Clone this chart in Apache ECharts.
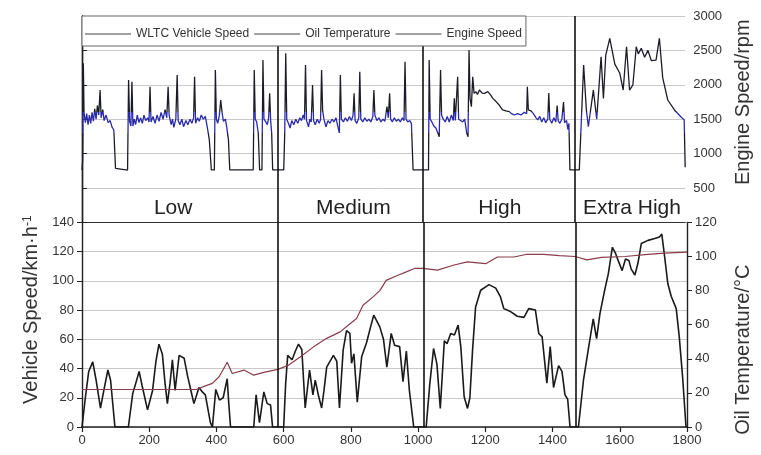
<!DOCTYPE html>
<html><head><meta charset="utf-8">
<script src="https://cdn.jsdelivr.net/npm/echarts@6/dist/echarts.min.js"></script>
<style>html,body{margin:0;padding:0;background:#fff}#c{width:761px;height:455px}</style>
</head><body><div id="c"></div>
<script>
// ---- data ----
const xTicks = [0, 200, 400, 600, 800, 1000, 1200, 1400, 1600, 1800];
const phaseBounds = [583, 1017, 1470];
const phaseLabels = [
  {name: 'Low', t: 272},
  {name: 'Medium', t: 810},
  {name: 'High', t: 1247},
  {name: 'Extra High', t: 1641}
];
const phaseLabelRpm = 200;

const speedPoints = [
  [0,0],[10,20],[20,38],[32,44.6],[42,32],[55,13],[65,25],[77,39],[85,32],[98,0],[138,0],[151,23],[160,30],[170,38],[180,27],[195,11.7],[210,25],[220,45],[229,56.7],[239,50],[247,30],[254,16],[262,30],[269,46],[277,25],[289,49],[304,47],[314,35],[324,25],[333,16],[348,27],[358,24],[367,22],[382,3],[388,0],[398,25.7],[409,18.4],[420,20],[432,33],[437,15],[442,0],[511,0],[518,22],[528,3],[541,24],[551,16],[561,15],[567,0],[600,0],
  [606,30],[612,49],[625,46],[635,52],[644,56.7],[654,53],[664,13],[677,39],[687,22],[694,32],[704,21],[713,13],[720,25],[728,41],[748,49],[758,45],[766,13],[777,52.6],[787,66],[797,64],[802,43.6],[809,50],[819,17],[832,48],[847,58],[858,68],[868,76.5],[886,68.5],[897,60],[907,41],[920,64],[930,56],[945,55],[955,31],[965,52],[974,25],[987,0],[1024,0],
  [1035,30],[1046,53.7],[1056,43],[1066,12.7],[1078,59],[1086,57],[1097,64],[1108,63],[1119,69.7],[1127,55],[1137,20.7],[1147,12.7],[1154,20],[1162,52.6],[1171,82],[1186,93.6],[1211,97.4],[1231,95],[1245,89],[1255,81],[1275,79],[1295,75.8],[1315,75],[1329,81],[1349,80],[1359,64],[1369,61.7],[1383,30],[1393,55],[1403,27],[1418,42],[1428,38],[1437,22],[1445,19],[1452,0],[1477,0],
  [1492,32],[1506,52.6],[1521,74],[1531,60.5],[1541,77.6],[1556,94.7],[1566,105],[1578,123],[1587,119],[1595,114],[1607,107],[1617,115],[1627,114],[1634,108],[1645,104],[1654,112],[1664,125.5],[1684,127.7],[1704,129],[1718,130],[1725,132],[1733,117.5],[1743,98],[1753,89.5],[1768,81],[1777,61.7],[1787,34],[1797,0],[1800,0]
];

const oilPoints = [
  [0,22],[340,22],[365,24],[388,25.6],[408,29.5],[432,38],[447,31.4],[482,33.4],[511,30.4],[541,32],[583,33.8],[615,36.3],[649,41],[689,47],[728,52],[768,55.8],[792,59.7],[817,63.6],[836,71.4],[866,76.3],[886,80],[905,86],[940,89],[965,91],[989,93],[1014,93],[1058,92],[1107,95],[1147,96.8],[1201,95.8],[1236,99.7],[1285,99.7],[1324,101.3],[1374,101.3],[1420,100.5],[1467,100],[1502,98],[1546,99.5],[1615,100],[1684,101.3],[1733,102],[1800,102.6]
];

const enginePoints = [
  [0,760],[2,900],[4,2312],[6,1600],[10,1450],[14,1580],[18,1420],[22,1560],[26,1440],[30,1600],[34,1470],[38,1650],[42,1500],[46,1700],[50,1560],[54,1924],[57,1520],[62,1640],[66,1480],[72,1560],[78,1450],[84,1480],[90,1380],[95,1343],[100,786],[102,760],
  [136,760],[139,2070],[142,1470],[146,1400],[149,2045],[152,1400],[156,1500],[160,1420],[165,1560],[170,1450],[175,1520],[180,1440],[185,1560],[190,1480],[196,1520],[200,1460],[203,1972],[206,1460],[212,1540],[218,1440],[224,1560],[230,1470],[236,1600],[242,1500],[248,1640],[253,1520],[257,1972],[260,1560],[266,1420],[270,1500],[274,1380],[280,1500],[284,2142],[287,1480],[292,1420],[298,1500],[303,1391],[310,1480],[316,1420],[322,1500],[328,1440],[333,1520],[336,2118],[339,1440],[345,1520],[350,1470],[356,1560],[362,1500],[368,1540],[374,1380],[380,1198],[386,762],[395,762],[398,2215],[401,1500],[405,1440],[410,1560],[414,1779],[418,1600],[422,1470],[428,1500],[432,1380],[437,1200],[441,762],[511,762],[514,2215],[517,1500],[521,1464],[526,1300],[530,762],[537,762],[540,2360],[543,1500],[548,1464],[553,1420],[557,1520],[560,1876],[563,1480],[566,1300],[569,762],[602,762],
  [605,1300],[608,2457],[611,1500],[616,1440],[621,1372],[626,1480],[632,1420],[638,1500],[644,1440],[650,1520],[655,1480],[660,1561],[664,1500],[667,2288],[670,1480],[676,1390],[680,1500],[684,1460],[688,1997],[691,1480],[696,1420],[702,1500],[708,1440],[712,1500],[715,2215],[718,1633],[722,1500],[728,1390],[734,1480],[740,1440],[746,1500],[752,1460],[758,1520],[764,1380],[768,1300],[771,2142],[774,1500],[780,1460],[786,1520],[792,1470],[798,1540],[804,1480],[809,1560],[812,1876],[815,1480],[820,1440],[826,1520],[829,2190],[832,1500],[838,1460],[844,1520],[850,1470],[856,1500],[862,1460],[868,1540],[871,1924],[874,1560],[880,1480],[886,1520],[892,1460],[898,1500],[904,1470],[910,1682],[914,1520],[918,1876],[921,1500],[926,1460],[932,1520],[938,1470],[944,1500],[950,1460],[956,1520],[961,1480],[964,2336],[967,1500],[972,1460],[978,1480],[983,1440],[988,762],[1034,762],
  [1036,2360],[1039,1500],[1044,1460],[1050,1400],[1056,1372],[1062,1300],[1066,1246],[1070,2215],[1073,1560],[1078,1500],[1084,1460],[1090,1540],[1096,1460],[1102,1560],[1108,1480],[1111,1803],[1114,1480],[1118,1460],[1121,2118],[1124,1500],[1130,1480],[1136,1460],[1142,1500],[1148,1300],[1152,1246],[1155,2506],[1158,1800],[1162,1682],[1166,2118],[1170,1876],[1176,1900],[1180,1860],[1186,1924],[1194,1880],[1201,1876],[1211,1900],[1218,1860],[1226,1803],[1235,1760],[1245,1706],[1255,1634],[1265,1620],[1275,1610],[1282,1580],[1290,1561],[1300,1580],[1310,1561],[1320,1600],[1327,1580],[1329,1972],[1332,1634],[1340,1620],[1347,1580],[1355,1520],[1360,1490],[1366,1540],[1372,1460],[1378,1520],[1384,1450],[1390,1500],[1393,1880],[1396,1500],[1402,1440],[1408,1520],[1414,1460],[1418,1700],[1421,1480],[1426,1440],[1432,1500],[1437,1750],[1440,1450],[1446,1480],[1450,1350],[1453,1440],[1456,762],[1484,762],
  [1497,2288],[1505,1640],[1511,1391],[1526,1924],[1536,1500],[1549,2408],[1556,1800],[1563,2430],[1575,2676],[1590,2300],[1605,2167],[1615,1924],[1625,2554],[1634,1924],[1644,2000],[1654,2554],[1660,2450],[1669,2530],[1679,2400],[1689,2500],[1699,2350],[1713,2360],[1723,2676],[1733,2100],[1748,1779],[1768,1634],[1787,1536],[1797,1490],[1800,800]
];
// engine-speed band drawn in blue (cruise fuzz); outside it the trace is dark
const engineBlueBand = [1300, 1600];

// ---- build ----
const BLUE = '#2a2aa8', DARK = '#1c1c28';
const FONT = 'Liberation Sans, Arial, sans-serif';
const gridGray = '#c9c9c9';
const phaseMark = {
  silent: true, symbol: 'none',
  lineStyle: {color: '#111', width: 1.6, type: 'solid'},
  label: {show: false},
  data: phaseBounds.map(t => ({xAxis: t}))
};

const chart = echarts.init(document.getElementById('c'));
chart.setOption({
  animation: false,
  textStyle: {fontFamily: FONT},
  grid: [
    {left: 82, right: 70, top: 16, height: 206.4},
    {left: 82, right: 70, top: 222.4, bottom: 28}
  ],
  legend: {
    left: 82, top: 16, z: 10,
    padding: [12, 4, 6, 3], itemGap: 5, itemWidth: 46, itemHeight: 1.2, icon: 'rect',
    backgroundColor: '#fff', borderColor: '#666', borderWidth: 1,
    textStyle: {fontSize: 12, color: '#333', fontFamily: FONT},
    data: [
      {name: 'WLTC Vehicle Speed', itemStyle: {color: '#444'}},
      {name: 'Oil Temperature', itemStyle: {color: '#444'}},
      {name: 'Engine Speed', itemStyle: {color: '#444'}}
    ]
  },
  visualMap: {
    show: false, type: 'piecewise', dimension: 1, seriesIndex: 2,
    pieces: [
      {lt: engineBlueBand[0], color: DARK},
      {gte: engineBlueBand[0], lte: engineBlueBand[1], color: BLUE},
      {gt: engineBlueBand[1], color: DARK}
    ]
  },
  xAxis: [
    {gridIndex: 0, type: 'value', min: 0, max: 1800, position: 'top',
     axisLine: {show: true, lineStyle: {color: '#333', width: 1.2}},
     axisTick: {show: false}, axisLabel: {show: false}, splitLine: {show: false}},
    {gridIndex: 1, type: 'value', min: xTicks[0], max: xTicks[xTicks.length - 1], interval: 200,
     axisLine: {lineStyle: {color: '#222', width: 1.6}},
     axisTick: {length: 5, lineStyle: {color: '#222', width: 1.2}},
     axisLabel: {color: '#333', fontSize: 13, margin: 7, formatter: v => String(v)},
     splitLine: {show: false}}
  ],
  yAxis: [
    {gridIndex: 0, type: 'value', position: 'right', min: 0, max: 3000, interval: 500,
     axisLine: {show: true, lineStyle: {color: '#222', width: 1.4}},
     axisTick: {show: true, length: 5, lineStyle: {color: '#222'}},
     axisLabel: {color: '#333', fontSize: 13, margin: 8, formatter: v => v === 0 ? '' : String(v)},
     splitLine: {show: true, lineStyle: {color: gridGray, width: 1}},
     name: 'Engine Speed/rpm', nameLocation: 'middle', nameRotate: 90, nameGap: 46,
     nameTextStyle: {fontSize: 20, color: '#333', padding: [0, 0, 0, 34]}},
    {gridIndex: 0, type: 'value', position: 'left', min: 0, max: 3000,
     axisLine: {show: true, lineStyle: {color: '#222', width: 1.4}},
     axisTick: {show: false}, axisLabel: {show: false}, splitLine: {show: false}},
    {gridIndex: 1, type: 'value', position: 'left', min: 0, max: 140, interval: 20,
     axisLine: {show: true, lineStyle: {color: '#222', width: 1.4}},
     axisTick: {show: true, length: 5, lineStyle: {color: '#222'}},
     axisLabel: {color: '#333', fontSize: 13, margin: 8},
     splitLine: {show: true, lineStyle: {color: gridGray, width: 1}},
     name: '{a|Vehicle Speed/km·h}{b|-1}', nameLocation: 'middle', nameRotate: 90, nameGap: 40,
     nameTextStyle: {color: '#333', padding: [0, 0, 0, 30],
       rich: {a: {fontSize: 20, color: '#333', fontFamily: FONT},
              b: {fontSize: 12, color: '#333', verticalAlign: 'top', fontFamily: FONT}}}},
    {gridIndex: 1, type: 'value', position: 'right', min: 0, max: 120, interval: 20,
     axisLine: {show: true, lineStyle: {color: '#222', width: 1.4}},
     axisTick: {show: true, length: 5, lineStyle: {color: '#222'}},
     axisLabel: {color: '#333', fontSize: 13, margin: 8},
     splitLine: {show: false},
     name: 'Oil Temperature/°C', nameLocation: 'middle', nameRotate: 90, nameGap: 46,
     nameTextStyle: {fontSize: 20, color: '#333', padding: [0, 50, 0, 0]}}
  ],
  series: [
    {name: 'WLTC Vehicle Speed', type: 'line', xAxisIndex: 1, yAxisIndex: 2,
     data: speedPoints, showSymbol: false, symbol: 'none', z: 3,
     lineStyle: {color: '#1a1a1a', width: 1.6}, itemStyle: {color: '#1a1a1a'},
     markLine: phaseMark},
    {name: 'Oil Temperature', type: 'line', xAxisIndex: 1, yAxisIndex: 3,
     data: oilPoints, showSymbol: false, symbol: 'none', z: 4,
     lineStyle: {color: '#8a3c4c', width: 1.2}, itemStyle: {color: '#8a3c4c'}},
    {name: 'Engine Speed', type: 'line', xAxisIndex: 0, yAxisIndex: 0,
     data: enginePoints, showSymbol: false, symbol: 'none', z: 3,
     lineStyle: {width: 1.3}, itemStyle: {color: DARK},
     markLine: phaseMark,
     markPoint: {
       silent: true, symbol: 'circle', symbolSize: 1,
       itemStyle: {color: 'rgba(0,0,0,0)'},
       label: {show: true, position: 'inside', formatter: p => p.name,
               fontSize: 21, color: '#222', fontFamily: FONT},
       data: phaseLabels.map(p => ({name: p.name, coord: [p.t, phaseLabelRpm]}))
     }}
  ]
});
</script></body></html>
